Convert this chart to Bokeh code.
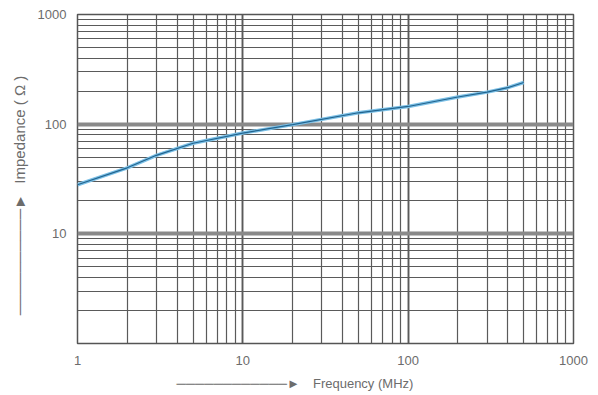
from bokeh.plotting import figure
from bokeh.models import Range1d, LogTicker
from bokeh.embed import file_html
from bokeh.resources import INLINE

# data
freq_mhz = [1, 2, 3, 5, 10, 20, 50, 100, 200, 300, 400, 500]
impedance = [28, 40, 52, 67, 83, 99, 127, 145, 177, 196, 215, 240]
x_ticks = [1, 10, 100, 1000]
y_ticks = [1, 10, 100, 1000]
x_title = "Frequency (MHz)"
y_title = "Impedance ( Ω )"

FONT = "Liberation Sans"
TXT = "#6c6c6c"
GRID = "#5a5a5a"

EM, EN, THIN = "\u2003", "\u2002", "\u2009"
HEAD = "\u25BA"

W, H = 598, 395
BL, BR, BT, BB = 77, 25, 14, 52

p = figure(width=W, height=H, x_axis_type="log", y_axis_type="log",
           x_range=Range1d(x_ticks[0], x_ticks[-1]), y_range=Range1d(y_ticks[0], y_ticks[-1]),
           output_backend="svg", toolbar_location=None,
           min_border_left=BL, min_border_right=BR, min_border_top=BT, min_border_bottom=BB)
p.background_fill_color = "white"
p.border_fill_color = "white"
p.outline_line_color = "#555555"
p.outline_line_width = 1.5

for ax in (p.xaxis, p.yaxis):
    ax.axis_line_color = None
    ax.major_tick_line_color = None
    ax.minor_tick_line_color = None
    ax.major_label_text_font = FONT
    ax.major_label_text_color = TXT
    ax.major_label_text_font_size = "13px"
    ax.axis_label_text_font = FONT
    ax.axis_label_text_font_style = "normal"
    ax.axis_label_text_color = TXT

p.xaxis.ticker = LogTicker(desired_num_ticks=4, num_minor_ticks=10)
p.yaxis.ticker = LogTicker(desired_num_ticks=4, num_minor_ticks=10)
p.xaxis.major_label_standoff = 6
p.yaxis.major_label_standoff = 5
p.xaxis.major_label_overrides = {t: str(t) for t in x_ticks}
p.yaxis.major_label_overrides = {t: ("" if t == 1 else str(t)) for t in y_ticks}

# axis titles with arrows (arrow drawn with box-drawing characters)
p.xaxis.axis_label = "\u2500" * 12 + HEAD + EM + x_title + EM * 4 + EN + THIN
p.xaxis.axis_label_text_font_size = "13px"
p.xaxis.axis_label_standoff = 8
p.yaxis.axis_label = "\u2500" * 10 + HEAD + EN + THIN + y_title + EM * 2 + THIN
p.yaxis.axis_label_text_font_size = "15px"
p.yaxis.axis_label_standoff = 7

p.xgrid.grid_line_color = GRID
p.xgrid.grid_line_width = 1.8
p.xgrid.minor_grid_line_color = GRID
p.xgrid.minor_grid_line_width = 1.2
p.ygrid.grid_line_color = "#8a8a8a"
p.ygrid.grid_line_width = 4
p.ygrid.minor_grid_line_color = GRID
p.ygrid.minor_grid_line_width = 1.2

p.line(freq_mhz, impedance, line_color="#7cc0e6", line_width=3.5)
p.line(freq_mhz, impedance, line_color="#22648f", line_width=1.2)

open("out.html", "w").write(file_html(p, INLINE))
